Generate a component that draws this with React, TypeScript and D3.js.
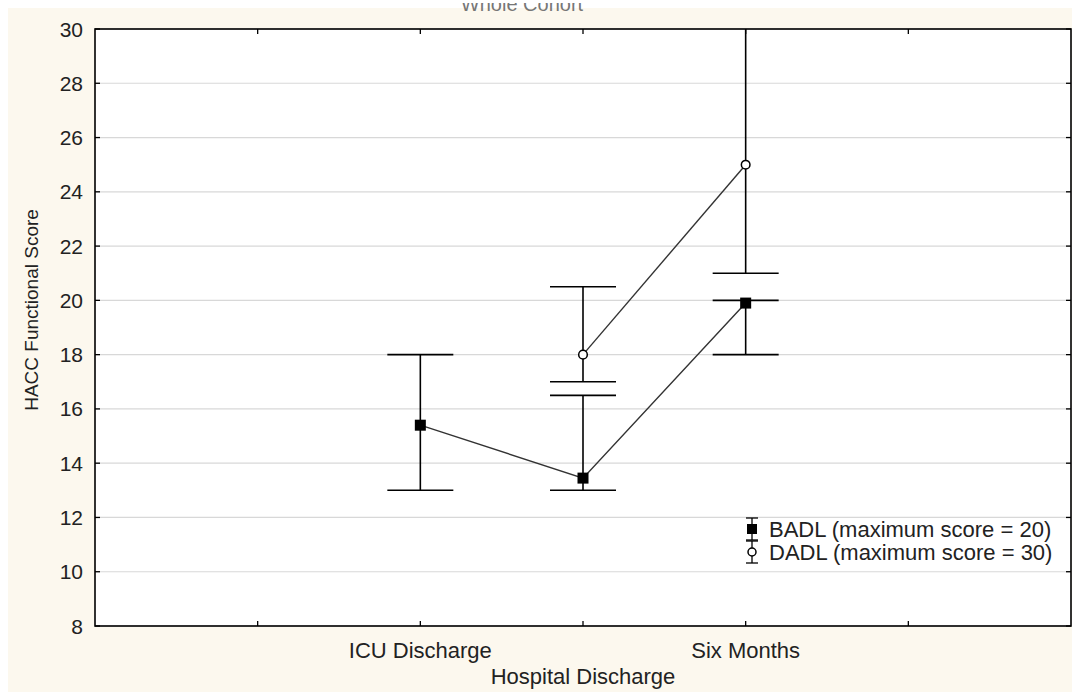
import React from "react";
import * as d3 from "d3";

// tick slots along the x axis (outer two carry no label)
const SLOTS = ["s0", "ICU Discharge", "Hospital Discharge", "Six Months", "s4"];
const TIMEPOINTS = ["ICU Discharge", "Hospital Discharge", "Six Months"];

// BADL (maximum score = 20)
const BADL_MEAN = [15.4, 13.45, 19.9];
const BADL_LOW = [13, 13, 18];
const BADL_HIGH = [18, 16.5, 20];

// DADL (maximum score = 30) - not measured at ICU discharge
const DADL_MEAN = [null, 18, 25];
const DADL_LOW = [null, 17, 21];
const DADL_HIGH = [null, 20.5, 31];

const Y_TICKS = [8, 10, 12, 14, 16, 18, 20, 22, 24, 26, 28, 30];

const W = 1072, H = 692;
const L = 95, R = 1071, T = 29, B = 626;
const FONT = "'Liberation Sans', Arial, sans-serif";
const CAP = 33;

export default function App() {
  const x = d3.scalePoint<string>().domain(SLOTS).range([L, R]).padding(1);
  const y = d3.scaleLinear().domain([8, 30]).range([B, T]);
  const line = d3.line<[number, number]>().x(d => d[0]).y(d => d[1]);

  const badlPts: [number, number][] = TIMEPOINTS.map((t, i) => [x(t)!, y(BADL_MEAN[i])]);
  const dadlPts: [number, number][] = TIMEPOINTS
    .map((t, i) => (DADL_MEAN[i] == null ? null : [x(t)!, y(DADL_MEAN[i] as number)]))
    .filter(Boolean) as [number, number][];

  const errBars = (low: (number | null)[], high: (number | null)[], key: string) =>
    TIMEPOINTS.map((t, i) => {
      if (low[i] == null) return null;
      const cx = x(t)!;
      const y0 = y(low[i] as number), y1 = y(high[i] as number);
      return (
        <g key={key + i} stroke="#000" strokeWidth={1.6}>
          <line x1={cx} x2={cx} y1={y0} y2={y1} />
          <line x1={cx - CAP} x2={cx + CAP} y1={y0} y2={y0} />
          <line x1={cx - CAP} x2={cx + CAP} y1={y1} y2={y1} />
        </g>
      );
    });

  const legendX = 752;
  const legendRows = [
    { label: "BADL (maximum score = 20)", cy: 529, kind: "square" },
    { label: "DADL (maximum score = 30)", cy: 552, kind: "circle" },
  ];

  return (
    <div style={{ position: "absolute", left: 0, top: 0, width: W, height: H, overflow: "hidden" }}>
      <svg width={W} height={H} style={{ display: "block", fontFamily: FONT }}>
        <defs>
          <clipPath id="plot">
            <rect x={L} y={T} width={R - L} height={B - T} />
          </clipPath>
          <clipPath id="top">
            <rect x={0} y={3} width={W} height={H} />
          </clipPath>
        </defs>
        <rect x={0} y={0} width={W} height={H} fill="#fff" />
        <rect x={8} y={8} width={W - 8} height={H - 8} fill="#fcf8ee" />
        <text x={522} y={11} textAnchor="middle" fontSize={20} fill="#777" clipPath="url(#top)">
          Whole Cohort
        </text>
        <rect x={L} y={T} width={R - L} height={B - T} fill="#fff" />

        {/* grid */}
        {Y_TICKS.map(v => (
          <line key={"g" + v} x1={L} x2={R} y1={y(v)} y2={y(v)} stroke="#d8d8d8" strokeWidth={1.2} />
        ))}

        <g clipPath="url(#plot)">
          <path d={line(badlPts)!} fill="none" stroke="#333" strokeWidth={1.4} />
          <path d={line(dadlPts)!} fill="none" stroke="#333" strokeWidth={1.4} />
          {errBars(BADL_LOW, BADL_HIGH, "b")}
          {errBars(DADL_LOW, DADL_HIGH, "d")}
          {badlPts.map((p, i) => (
            <rect key={"bm" + i} x={p[0] - 5.5} y={p[1] - 5.5} width={11} height={11} fill="#000" />
          ))}
          {dadlPts.map((p, i) => (
            <circle key={"dm" + i} cx={p[0]} cy={p[1]} r={4.3} fill="#fff" stroke="#000" strokeWidth={1.5} />
          ))}
        </g>

        {/* frame and ticks */}
        <rect x={L} y={T} width={R - L} height={B - T} fill="none" stroke="#000" strokeWidth={1.6} />
        {Y_TICKS.map(v => (
          <g key={"yt" + v}>
            <line x1={L} x2={L + 5} y1={y(v)} y2={y(v)} stroke="#000" strokeWidth={1.3} />
            <line x1={R - 5} x2={R} y1={y(v)} y2={y(v)} stroke="#000" strokeWidth={1.3} />
            <text x={83} y={y(v)} dy="0.36em" textAnchor="end" fontSize={21} fill="#222">
              {v}
            </text>
          </g>
        ))}
        {SLOTS.map((s, i) => (
          <g key={"xt" + s}>
            <line x1={x(s)!} x2={x(s)!} y1={B} y2={B - 5} stroke="#000" strokeWidth={1.3} />
            <line x1={x(s)!} x2={x(s)!} y1={T} y2={T + 5} stroke="#000" strokeWidth={1.3} />
            {TIMEPOINTS.includes(s) && (
              <text x={x(s)!} y={i % 2 === 1 ? 658 : 684} textAnchor="middle" fontSize={22} fill="#222">
                {s}
              </text>
            )}
          </g>
        ))}

        <text
          transform={`translate(38,${310}) rotate(-90)`}
          textAnchor="middle"
          fontSize={19}
          fill="#222"
        >
          HACC Functional Score
        </text>

        {/* legend */}
        {legendRows.map(r => (
          <g key={r.label}>
            <g stroke="#000" strokeWidth={1.3}>
              <line x1={legendX} x2={legendX} y1={r.cy - 11} y2={r.cy + 11} />
              <line x1={legendX - 6} x2={legendX + 6} y1={r.cy - 11} y2={r.cy - 11} />
              <line x1={legendX - 6} x2={legendX + 6} y1={r.cy + 11} y2={r.cy + 11} />
            </g>
            {r.kind === "square" ? (
              <rect x={legendX - 5} y={r.cy - 5} width={10} height={10} fill="#000" />
            ) : (
              <circle cx={legendX} cy={r.cy} r={4} fill="#fff" stroke="#000" strokeWidth={1.5} />
            )}
            <text x={769} y={r.cy} dy="0.36em" fontSize={22} fill="#222">
              {r.label}
            </text>
          </g>
        ))}
      </svg>
    </div>
  );
}
